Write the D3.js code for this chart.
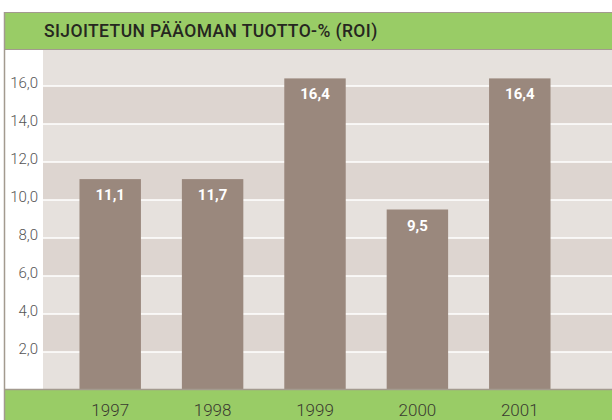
<!doctype html>
<html lang="fi">
  <head>
    <meta charset="utf-8">
    <title>Sijoitetun pääoman tuotto-% (ROI)</title>
    <script src="https://d3js.org/d3.v7.min.js"></script>
    <style>
      body { margin: 0; background: #fff; }
      text { font-family: Roboto, "DejaVu Sans Condensed", sans-serif; }
      .tick line { display: none; }
    </style>
  </head>
  <body>
    <script>

      var years = ["1997", "1998", "1999", "2000", "2001"];
      // bar heights as drawn in the picture (1998 bar is drawn at the same height as 1997)
      var values = [11.1, 11.1, 16.4, 9.5, 16.4];
      var valueLabels = ["11,1", "11,7", "16,4", "9,5", "16,4"];
      var yTicks = [2, 4, 6, 8, 10, 12, 14, 16];
      var title = "SIJOITETUN PÄÄOMAN TUOTTO-% (ROI)";

      var width = 612, height = 420;
      var green = "#99cc66", border = "#a39a8f", bar = "#9a887d",
          bandLight = "#e6e1dd", bandDark = "#ddd5d0";

      var svg = d3.select("body").append("svg")
          .attr("width", width)
          .attr("height", height);

      var x = d3.scaleBand().domain(years).range([59, 571]).paddingInner(0.4).paddingOuter(0.2);
      var y = d3.scaleLinear().domain([0, 18]).range([390, 48]);

      var plotLeft = 43, plotTop = 50;

      // alternating bands
      var bandEdges = [0].concat(yTicks);
      svg.append("g").selectAll("rect").data(bandEdges).enter().append("rect")
          .attr("x", plotLeft)
          .attr("width", width - plotLeft)
          .attr("y", function(d){ return Math.max(plotTop, y(d + 2)); })
          .attr("height", function(d){ return y(d) - Math.max(plotTop, y(d + 2)); })
          .attr("fill", function(d, i){ return i % 2 ? bandDark : bandLight; });

      // white grid lines
      svg.append("g").selectAll("line").data(yTicks).enter().append("line")
          .attr("x1", plotLeft).attr("x2", width)
          .attr("y1", function(d){ return y(d); }).attr("y2", function(d){ return y(d); })
          .attr("stroke", "#fff").attr("stroke-width", 1.5);

      // bars
      svg.append("g").selectAll("rect").data(values).enter().append("rect")
          .attr("x", function(d, i){ return x(years[i]); })
          .attr("width", x.bandwidth())
          .attr("y", function(d){ return y(d); })
          .attr("height", function(d){ return y(0) - y(d); })
          .attr("fill", bar);

      svg.append("g").selectAll("text").data(values).enter().append("text")
          .attr("x", function(d, i){ return x(years[i]) + x.bandwidth() / 2; })
          .attr("y", function(d){ return y(d) + 21; })
          .attr("text-anchor", "middle")
          .attr("fill", "#fff")
          .attr("font-size", 15)
          .attr("font-weight", "bold")
          .text(function(d, i){ return valueLabels[i]; });

      // y axis
      var yAxis = svg.append("g")
          .attr("transform", "translate(" + (plotLeft - 5) + ",0)")
          .call(d3.axisLeft(y).tickValues(yTicks).tickSize(0).tickPadding(0)
            .tickFormat(function(d){ return d3.format(".1f")(d).replace(".", ","); }));
      yAxis.select(".domain").remove();
      yAxis.selectAll("text").attr("font-size", 15).attr("font-weight", 300).attr("fill", "#555")
          .attr("dy", "0.1em").style("font-family", null);

      // header band
      svg.append("rect").attr("x", 5).attr("y", 12).attr("width", width - 5).attr("height", 38)
          .attr("fill", green);
      svg.append("g").selectAll("line").data([12.5, 49.5]).enter().append("line")
          .attr("x1", 5).attr("x2", width)
          .attr("y1", function(d){ return d; }).attr("y2", function(d){ return d; })
          .attr("stroke", border).attr("stroke-width", 1);
      svg.append("text").attr("x", 44).attr("y", 37)
          .attr("font-size", 17.5).attr("font-weight", 500).attr("fill", "#262620")
          .attr("letter-spacing", 0.4)
          .text(title);

      // bottom band with years
      svg.append("rect").attr("x", 5).attr("y", 389).attr("width", width - 5).attr("height", height - 389)
          .attr("fill", green);
      svg.append("line").attr("x1", 5).attr("x2", width).attr("y1", 389.5).attr("y2", 389.5)
          .attr("stroke", border).attr("stroke-width", 1.5);

      var xAxis = svg.append("g")
          .attr("transform", "translate(0,390)")
          .call(d3.axisBottom(x).tickSize(0).tickPadding(0));
      xAxis.select(".domain").remove();
      xAxis.selectAll("text").attr("font-size", 17).attr("font-weight", 300).attr("fill", "#3a3a30")
          .attr("dy", "1.55em").style("font-family", null);

      // left frame line
      svg.append("line").attr("x1", 4.5).attr("x2", 4.5).attr("y1", 12).attr("y2", height)
          .attr("stroke", border).attr("stroke-width", 1.5);

    </script>
  </body>
</html>
